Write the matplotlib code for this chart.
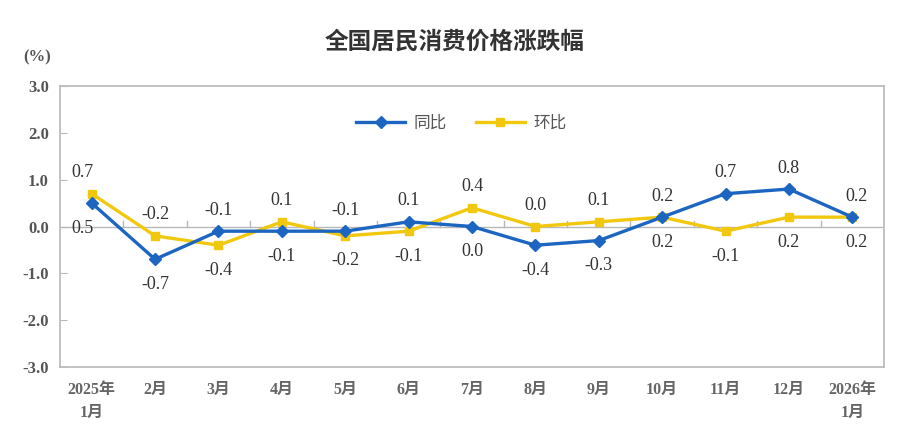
import matplotlib.pyplot as plt
import numpy as np

# 月份与两组数据（单位：%）
months = ["2025年\n1月", "2月", "3月", "4月", "5月", "6月", "7月",
          "8月", "9月", "10月", "11月", "12月", "2026年\n1月"]
yoy = [0.5, -0.7, -0.1, -0.1, -0.1, 0.1, 0.0, -0.4, -0.3, 0.2, 0.7, 0.8, 0.2]   # 同比
mom = [0.7, -0.2, -0.4, 0.1, -0.2, -0.1, 0.4, 0.0, 0.1, 0.2, -0.1, 0.2, 0.2]    # 环比
y_ticks = [-3.0, -2.0, -1.0, 0.0, 1.0, 2.0, 3.0]

blue = "#1c66c2"
yellow = "#f2c80f"
fonts = ["Liberation Serif", "Noto Sans CJK SC", "DejaVu Sans"]

fig = plt.figure(figsize=(9.1, 4.32), dpi=100)
ax = fig.add_axes([60 / 910, 1 - 367 / 432, 824 / 910, 281 / 432])

x = np.arange(len(months))
ax.plot(x, yoy, color=blue, lw=2.4, marker="D", ms=6, label="同比", zorder=4)
ax.plot(x, mom, color=yellow, lw=2.4, marker="s", ms=5.5, label="环比", zorder=3)

# 零线及分隔刻度
ax.axhline(0, color="#b8b8b8", lw=1.0, zorder=1)
for b in np.arange(0.5, len(months) - 1):
    ax.plot([b, b], [0, 0.11], color="#b8b8b8", lw=1.0, zorder=1)

# 数据标签：较大的值标在上方，较小的标在下方
for i in range(len(months)):
    if yoy[i] > mom[i]:
        pairs = [(yoy[i], 1), (mom[i], -1)]
    else:
        pairs = [(mom[i], 1), (yoy[i], -1)]
    for v, d in pairs:
        dx = -9 if i == 0 else (4 if i == len(months) - 1 else 0)
        ax.annotate(f"{v:.1f}", (i, v), xytext=(dx, 21 if d > 0 else -25),
                    textcoords="offset pixels", ha="center", va="center",
                    fontsize=13, color="#333333", family=fonts, zorder=5)

ax.set_xlim(-0.5, len(months) - 0.5)
ax.set_ylim(-3.0, 3.0)
ax.set_yticks(y_ticks)
ax.set_yticklabels([f"{t:.1f}" for t in y_ticks], family=fonts,
                   fontsize=12, fontweight="bold", color="#555555")
ax.set_xticks(x)
ax.set_xticklabels(months, family=fonts, fontsize=11.5, fontweight="bold",
                   color="#666666", linespacing=1.55)
ax.tick_params(axis="y", direction="in", length=5, color="#b8b8b8", pad=8)
ax.tick_params(axis="x", length=0, pad=11)
for s in ax.spines.values():
    s.set_color("#bdbdbd")
    s.set_linewidth(1.3)

leg = ax.legend(loc="center", bbox_to_anchor=(0.487, 0.865), ncol=2,
                frameon=False, handlelength=2.9, columnspacing=1.8,
                handletextpad=0.5, prop={"family": fonts, "size": 12})
for t in leg.get_texts():
    t.set_color("#555555")

fig.text(0.5, 1 - 42 / 432, "全国居民消费价格涨跌幅", ha="center", va="center",
         fontsize=17, fontweight="bold", color="#333333",
         family=["Noto Sans CJK SC", "DejaVu Sans"])
fig.text(37 / 910, 1 - 57 / 432, "(%)", ha="center", va="center",
         fontsize=12, fontweight="bold", color="#555555", family=fonts)

fig.savefig("out.png", dpi=100)
